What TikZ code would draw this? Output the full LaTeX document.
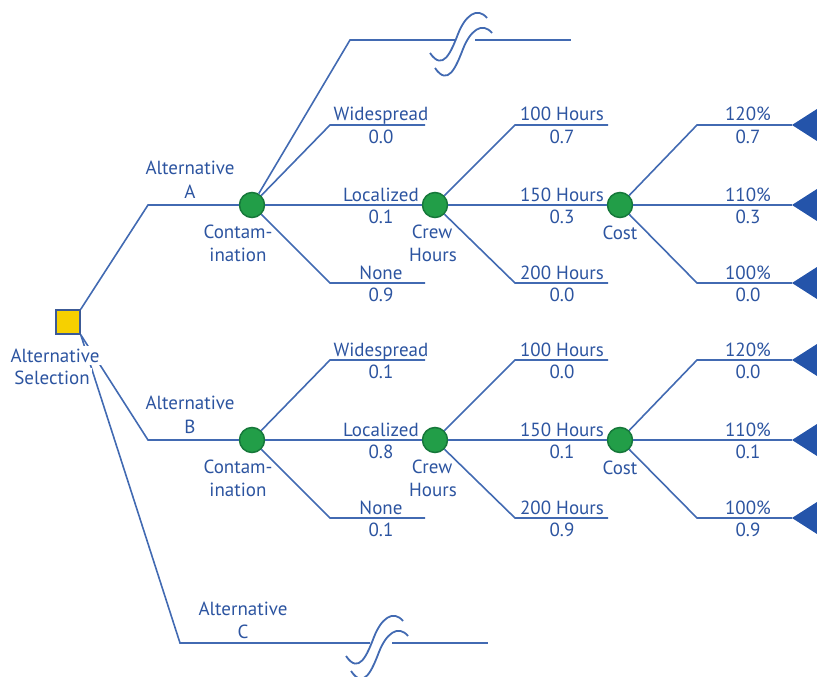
\documentclass[tikz,border=0pt]{standalone}
\usepackage{fontspec}
\setmainfont{PT Sans}
\definecolor{lineblue}{RGB}{66,106,178}
\definecolor{txtblue}{RGB}{44,84,160}
\definecolor{triblue}{RGB}{36,84,170}
\definecolor{dotgreen}{RGB}{34,158,72}
\definecolor{dotedge}{RGB}{22,120,58}
\definecolor{sqyellow}{RGB}{246,208,0}
\definecolor{sqedge}{RGB}{60,90,150}
\begin{document}
\begin{tikzpicture}[x=1pt,y=-1pt,
  chance/.style={circle, fill=dotgreen, draw=dotedge, line width=1.5pt, minimum size=25pt, inner sep=0pt},
  decision/.style={rectangle, fill=sqyellow, draw=sqedge, line width=1.5pt, minimum size=24pt, inner sep=0pt},
  branch/.style={draw=lineblue, line width=1.6pt},
  lab/.style={text=txtblue, font=\fontsize{19}{23}\selectfont, inner sep=0pt, anchor=base},
  coverlab/.style={lab, fill=white, inner sep=2.5pt},
  endtri/.style={fill=triblue},
  squig/.style={draw=lineblue, line width=1.8pt},
  pics/brk/.style={code={
    \draw[squig] (-35,13) .. controls (-22,32) and (-14,12) .. (-7,-6) .. controls (0,-24) and (12,-34) .. (22,-22);
    \draw[squig] (-30,28) .. controls (-17,47) and (-9,27) .. (-2,9) .. controls (5,-9) and (17,-19) .. (27,-7);
  }}]
\useasboundingbox (0,0) rectangle (817,677);

% decision and chance nodes
\node[decision] (sq) at (68,322) {};
\node[chance] (cA) at (252,205) {};
\node[chance] (hA) at (435,205) {};
\node[chance] (kA) at (620,205) {};
\node[chance] (cB) at (252,440) {};
\node[chance] (hB) at (435,440) {};
\node[chance] (kB) at (620,440) {};

% coordinates, upper tree
\coordinate (altA) at (148,205);
\coordinate (topA) at (350,40);
\coordinate (gapA1) at (455,40);
\coordinate (gapA2) at (475,40);
\coordinate (topAe) at (571,40);
\coordinate (wA) at (330,125);
\coordinate (wAe) at (425,125);
\coordinate (nA) at (330,283);
\coordinate (nAe) at (425,283);
\coordinate (h1A) at (515,125);
\coordinate (h1Ae) at (608,125);
\coordinate (h3A) at (515,283);
\coordinate (h3Ae) at (608,283);
\coordinate (k1A) at (697,125);
\coordinate (t1A) at (792,125);
\coordinate (t2A) at (792,205);
\coordinate (k3A) at (697,283);
\coordinate (t3A) at (792,283);

% coordinates, lower tree
\coordinate (altB) at (148,440);
\coordinate (wB) at (330,360);
\coordinate (wBe) at (425,360);
\coordinate (nB) at (330,518);
\coordinate (nBe) at (425,518);
\coordinate (h1B) at (515,360);
\coordinate (h1Be) at (608,360);
\coordinate (h3B) at (515,518);
\coordinate (h3Be) at (608,518);
\coordinate (k1B) at (697,360);
\coordinate (t1B) at (792,360);
\coordinate (t2B) at (792,440);
\coordinate (k3B) at (697,518);
\coordinate (t3B) at (792,518);

% alternative C
\coordinate (altC) at (180,643);
\coordinate (gapC1) at (370,643);
\coordinate (gapC2) at (392,643);
\coordinate (altCe) at (488,643);

% branches
\draw[branch] (sq.north east) -- (altA) -- (cA);
\draw[branch] (sq.south east) -- (altB) -- (cB);
\draw[branch] (sq.south east) -- (altC) -- (gapC1);
\draw[branch] (gapC2) -- (altCe);

\draw[branch] (cA) -- (topA) -- (gapA1);
\draw[branch] (gapA2) -- (topAe);
\draw[branch] (cA) -- (wA) -- (wAe);
\draw[branch] (cA) -- (hA);
\draw[branch] (cA) -- (nA) -- (nAe);
\draw[branch] (hA) -- (h1A) -- (h1Ae);
\draw[branch] (hA) -- (kA);
\draw[branch] (hA) -- (h3A) -- (h3Ae);
\draw[branch] (kA) -- (k1A) -- (t1A);
\draw[branch] (kA) -- (t2A);
\draw[branch] (kA) -- (k3A) -- (t3A);

\draw[branch] (cB) -- (wB) -- (wBe);
\draw[branch] (cB) -- (hB);
\draw[branch] (cB) -- (nB) -- (nBe);
\draw[branch] (hB) -- (h1B) -- (h1Be);
\draw[branch] (hB) -- (kB);
\draw[branch] (hB) -- (h3B) -- (h3Be);
\draw[branch] (kB) -- (k1B) -- (t1B);
\draw[branch] (kB) -- (t2B);
\draw[branch] (kB) -- (k3B) -- (t3B);

% end triangles
\foreach \t in {t1A,t2A,t3A,t1B,t2B,t3B}
  \fill[endtri] (\t) -- ++(25,-16) -- ++(0,32) -- cycle;

% break marks
\pic at (465,40) {brk};
\pic at (381,643) {brk};

% labels
\node[coverlab] (selA) at (55,362) {Alternative};
\node[coverlab] (selB) at (52,384) {Selection};

\node[lab] (altAa) at (190,174) {Alternative};
\node[lab] (altAb) at (190,198) {A};
\node[lab] (altBa) at (190,409) {Alternative};
\node[lab] (altBb) at (190,433) {B};
\node[lab] (altCa) at (243,615) {Alternative};
\node[lab] (altCb) at (243,638) {C};

\node[lab] (conAa) at (238,238) {Contam-};
\node[lab] (conAb) at (238,261) {ination};
\node[lab] (conBa) at (238,473) {Contam-};
\node[lab] (conBb) at (238,496) {ination};
\node[lab] (crAa) at (432,238) {Crew};
\node[lab] (crAb) at (433,261) {Hours};
\node[lab] (crBa) at (432,473) {Crew};
\node[lab] (crBb) at (433,496) {Hours};
\node[lab] (coA) at (620,239) {Cost};
\node[lab] (coB) at (620,474) {Cost};

% upper branch labels
\node[lab] (lw1) at (381,121) {Widespread};
\node[lab] (pw1) at (381,143) {0.0};
\node[lab] (ll1) at (381,201) {Localized};
\node[lab] (pl1) at (381,223) {0.1};
\node[lab] (ln1) at (381,279) {None};
\node[lab] (pn1) at (381,301) {0.9};
\node[lab] (lh11) at (562,121) {100 Hours};
\node[lab] (ph11) at (562,143) {0.7};
\node[lab] (lh21) at (562,201) {150 Hours};
\node[lab] (ph21) at (562,223) {0.3};
\node[lab] (lh31) at (562,279) {200 Hours};
\node[lab] (ph31) at (562,301) {0.0};
\node[lab] (lc11) at (748,121) {120\%};
\node[lab] (pc11) at (748,143) {0.7};
\node[lab] (lc21) at (748,201) {110\%};
\node[lab] (pc21) at (748,223) {0.3};
\node[lab] (lc31) at (748,279) {100\%};
\node[lab] (pc31) at (748,301) {0.0};

% lower branch labels
\node[lab] (lw2) at (381,356) {Widespread};
\node[lab] (pw2) at (381,378) {0.1};
\node[lab] (ll2) at (381,436) {Localized};
\node[lab] (pl2) at (381,458) {0.8};
\node[lab] (ln2) at (381,514) {None};
\node[lab] (pn2) at (381,536) {0.1};
\node[lab] (lh12) at (562,356) {100 Hours};
\node[lab] (ph12) at (562,378) {0.0};
\node[lab] (lh22) at (562,436) {150 Hours};
\node[lab] (ph22) at (562,458) {0.1};
\node[lab] (lh32) at (562,514) {200 Hours};
\node[lab] (ph32) at (562,536) {0.9};
\node[lab] (lc12) at (748,356) {120\%};
\node[lab] (pc12) at (748,378) {0.0};
\node[lab] (lc22) at (748,436) {110\%};
\node[lab] (pc22) at (748,458) {0.1};
\node[lab] (lc32) at (748,514) {100\%};
\node[lab] (pc32) at (748,536) {0.9};
\end{tikzpicture}
\end{document}
